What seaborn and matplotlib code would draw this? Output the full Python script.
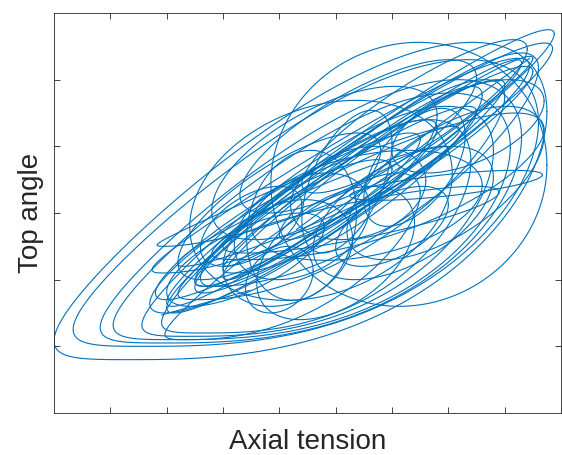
import numpy as np
import pandas as pd
import matplotlib
matplotlib.use("Agg")
import matplotlib.pyplot as plt
import seaborn as sns

# Loops of the trajectory (data units: x 0..9, y 0..6)
# x range, y range, phase lag of y behind x, and y skew exponent of each loop
loop_x_lo = [0.00, 0.34, 0.82, 1.05, 1.56, 1.91, 1.74, 1.83, 2.20, 2.50, 1.97, 2.80, 3.00,
             2.00, 2.50, 3.00,
             3.85, 2.41, 3.42, 4.40, 5.50, 5.25, 3.50, 3.00, 3.40, 2.80, 3.30, 4.40, 2.20,
             3.60, 4.60, 5.20, 2.00, 3.00, 6.00, 2.00, 2.50, 1.80, 3.00, 1.70, 2.20, 2.60, 4.00,
             3.20, 4.20, 2.60, 5.00]
loop_x_hi = [8.75, 8.60, 8.30, 8.10, 7.80, 7.40, 8.44, 7.20, 8.00, 8.60, 6.50, 8.70, 7.60,
             8.88, 8.85, 8.50,
             8.75, 7.07, 5.37, 6.00, 7.30, 8.67, 7.60, 5.30, 4.60, 6.80, 7.50, 8.40, 5.80,
             6.40, 7.80, 8.70, 4.80, 7.90, 8.70, 8.00, 7.50, 6.50, 8.30, 6.00, 7.00, 6.80, 8.50,
             5.60, 6.60, 4.40, 7.00]
loop_y_lo = [0.80, 1.00, 1.05, 1.10, 1.15, 1.20, 2.10, 2.50, 1.70, 1.90, 1.10, 2.30, 2.10,
             1.60, 1.90, 2.20,
             1.60, 1.69, 1.69, 2.40, 2.80, 3.19, 2.29, 1.60, 1.50, 2.60, 3.00, 3.30, 2.00,
             1.40, 2.00, 2.30, 1.60, 2.40, 3.60, 1.50, 1.80, 1.70, 2.00, 1.50, 2.20, 1.90, 2.60,
             2.00, 2.60, 2.20, 2.20]
loop_y_hi = [5.56, 5.30, 5.00, 4.80, 4.60, 4.40, 5.32, 4.30, 5.00, 5.40, 3.60, 4.50, 4.90,
             5.75, 5.55, 5.35,
             5.56, 4.69, 3.94, 4.54, 4.57, 3.64, 3.94, 3.20, 2.50, 4.90, 5.30, 5.60, 4.20,
             3.40, 4.00, 4.60, 3.00, 3.40, 5.00, 5.00, 4.60, 4.20, 5.30, 3.80, 4.00, 4.40, 5.20,
             3.60, 4.00, 3.40, 3.40]
loop_lag  = [0.80, 0.80, 0.80, 0.80, 0.75, 0.75, 0.35, 0.30, 0.50, 0.45, 0.60, 0.60, 0.40,
             0.25, 0.30, 0.20,
             1.50, 1.30, 1.40, 1.00, 1.00, 0.80, 1.20, 1.30, 1.30, 0.90, 0.70, 0.50, 0.70,
             1.10, 1.00, 0.90, 0.80, 0.60, 1.00, 0.30, 0.35, 0.40, 0.25, 0.50, 0.30, 0.45, 0.35,
             1.20, 1.30, 1.00, 1.00]
loop_skew = [1.50, 1.50, 1.50, 1.50, 1.50, 1.50, 1.20, 1.20, 1.30, 1.30, 1.40, 1.30, 1.20,
             1.00, 1.00, 1.00,
             1.00, 1.00, 1.00, 1.00, 1.00, 1.00, 1.00, 1.00, 1.00, 1.00, 1.00, 1.00, 1.00,
             1.00, 1.00, 1.00, 1.00, 1.00, 1.00, 1.00, 1.00, 1.00, 1.00, 1.00, 1.00, 1.00, 1.00,
             1.00, 1.00, 1.00, 1.00]

# open ends of the trajectory
start_x = [1.91, 3.48]
start_y = [1.47, 1.84]
end_x = [4.30, 8.44]
end_y = [2.75, 5.32]

x_ticks = [1, 2, 3, 4, 5, 6, 7, 8]
y_ticks = [1, 2, 3, 4, 5]

rows = []
t = np.linspace(0, 2 * np.pi, 600)
s = (1 + np.cos(t)) / 2
for i in range(len(loop_x_lo)):
    u = ((1 + np.cos(t - loop_lag[i])) / 2) ** loop_skew[i]
    xs = loop_x_lo[i] + (loop_x_hi[i] - loop_x_lo[i]) * s
    ys = loop_y_lo[i] + (loop_y_hi[i] - loop_y_lo[i]) * u
    rows += [(f"L{i}", a, b) for a, b in zip(xs, ys)]
rows += [("start", a, b) for a, b in zip(start_x, start_y)]
rows += [("end", a, b) for a, b in zip(end_x, end_y)]
df = pd.DataFrame(rows, columns=["loop", "x", "y"])

sns.set_theme(style="white")
plt.rcParams['font.family'] = ['Liberation Sans', 'DejaVu Sans']

fig = plt.figure(figsize=(5.62, 4.55), dpi=100)
ax = fig.add_axes([54 / 562, 42 / 455, 507 / 562, 400 / 455])

sns.lineplot(data=df, x="x", y="y", units="loop", estimator=None, sort=False,
             color="#0072BD", linewidth=0.8, ax=ax, legend=False)

ax.set_xlim(0, 9)
ax.set_ylim(0, 6)
ax.set_xticks(x_ticks)
ax.set_yticks(y_ticks)
ax.set_xticklabels([])
ax.set_yticklabels([])
ax.tick_params(direction="in", top=True, right=True, length=4, width=0.6,
               color="#262626", bottom=True, left=True)
for sp in ax.spines.values():
    sp.set_color("#262626")
    sp.set_linewidth(0.6)
    sp.set_visible(True)
ax.set_xlabel("Axial tension", fontsize=20, color="#262626", labelpad=8)
ax.set_ylabel("Top angle", fontsize=20, color="#262626", labelpad=4)

fig.savefig("out.png", dpi=100)
